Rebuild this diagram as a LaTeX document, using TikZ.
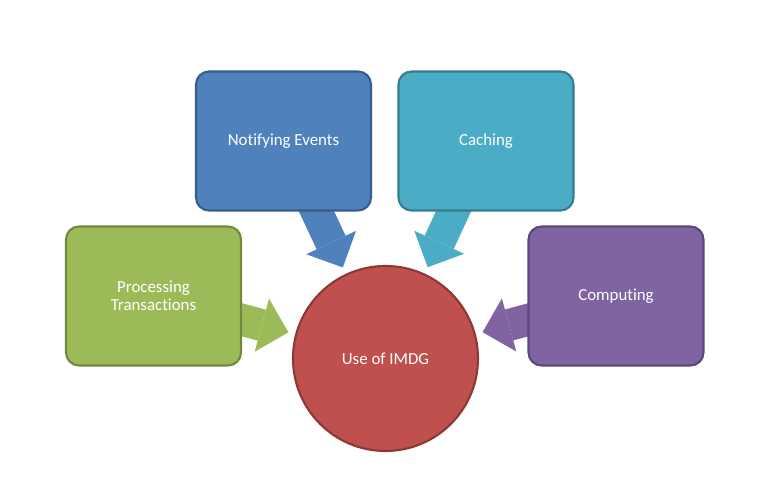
\documentclass[tikz,border=0pt]{standalone}
\usepackage{fontspec}
\setmainfont{Carlito}[Ligatures=NoCommon]
\usetikzlibrary{arrows.meta,backgrounds}
\definecolor{nblue}{HTML}{4F81BD}
\definecolor{nbluedk}{HTML}{385D8A}
\definecolor{ncyan}{HTML}{4BACC6}
\definecolor{ncyandk}{HTML}{357D91}
\definecolor{ngreen}{HTML}{9BBB59}
\definecolor{ngreendk}{HTML}{71893F}
\definecolor{npurple}{HTML}{8064A2}
\definecolor{npurpledk}{HTML}{5C4776}
\definecolor{nred}{HTML}{C0504D}
\definecolor{nreddk}{HTML}{8C3836}
\tikzset{
  usebox/.style={draw, rounded corners=0.26cm, line width=1.2pt,
    minimum width=3.5cm, minimum height=2.78cm, text=white, align=center,
    font=\fontsize{9.6}{10.5}\selectfont},
  fatarrow/.style={line width=0.64cm,
    -{Triangle[length=0.55cm,width=1.1cm,line width=0pt]},
    shorten >=0.14cm, shorten <=-0.6cm}
}
\begin{document}
\begin{tikzpicture}
\useasboundingbox (0,0) rectangle (15.4,9.68);
% the four uses
\node[usebox, fill=nblue, draw=nbluedk] (notify) at (5.67,6.86) {Notifying Events};
\node[usebox, fill=ncyan, draw=ncyandk] (cache) at (9.72,6.86) {Caching};
\node[usebox, fill=ngreen, draw=ngreendk] (trans) at (3.07,3.76) {Processing\\Transactions};
\node[usebox, fill=npurple, draw=npurpledk] (compute) at (12.32,3.76) {Computing};
% centre
\node[circle, draw=nreddk, fill=nred, line width=1.2pt, minimum size=3.7cm,
  text=white, font=\fontsize{9.6}{10.5}\selectfont] (imdg) at (7.71,2.51) {Use of IMDG};
% arrows behind the boxes
\begin{scope}[on background layer]
\draw[fatarrow, nblue] (notify) -- (imdg);
\draw[fatarrow, ncyan] (cache) -- (imdg);
\draw[fatarrow, ngreen] (trans) -- (imdg);
\draw[fatarrow, npurple] (compute) -- (imdg);
\end{scope}
\end{tikzpicture}
\end{document}
